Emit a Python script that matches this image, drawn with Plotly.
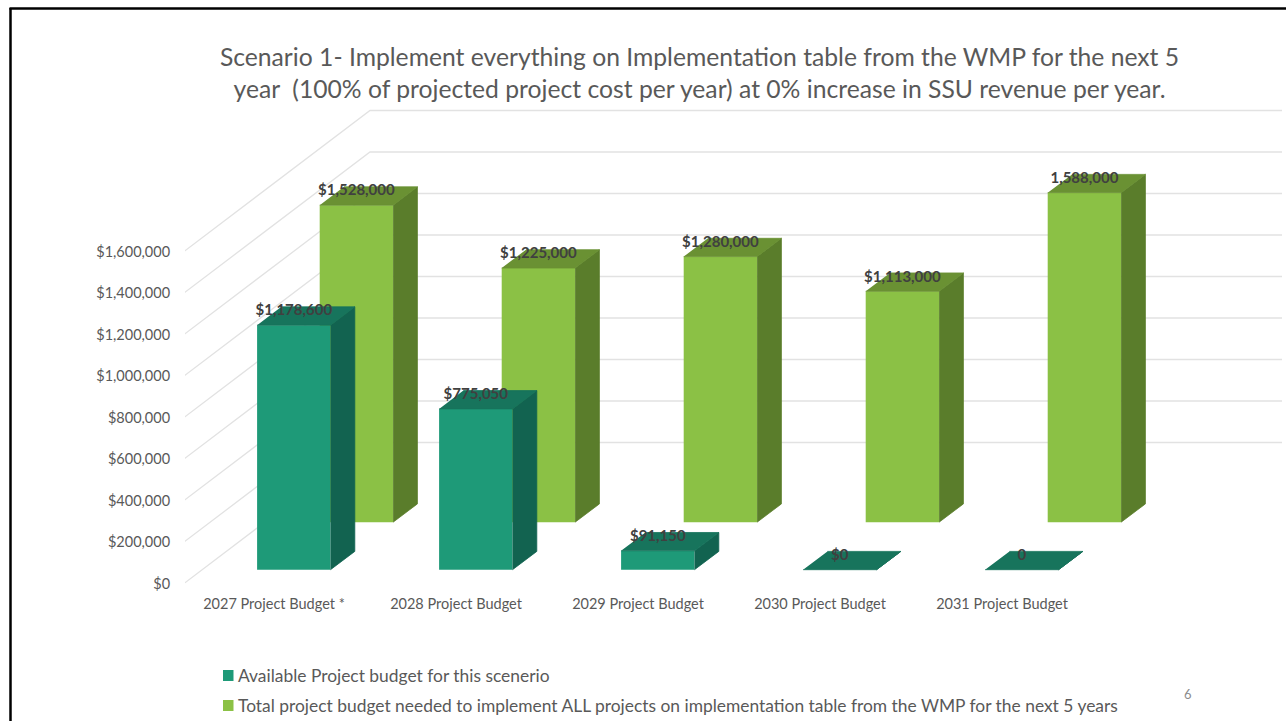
import plotly.graph_objects as go

categories = ["2027 Project Budget *", "2028 Project Budget", "2029 Project Budget",
              "2030 Project Budget", "2031 Project Budget"]
available = [1178600, 775050, 91150, 0, 0]
available_labels = ["$1,178,600", "$775,050", "$91,150", "$0", "0"]
needed = [1528000, 1225000, 1280000, 1113000, 1588000]
needed_labels = ["$1,528,000", "$1,225,000", "$1,280,000", "$1,113,000", "1,588,000"]
y_ticks = [0, 200000, 400000, 600000, 800000, 1000000, 1200000, 1400000, 1600000]
y_ticktext = ["$0", "$200,000", "$400,000", "$600,000", "$800,000", "$1,000,000",
              "$1,200,000", "$1,400,000", "$1,600,000"]
name_available = "Available Project budget for this scenerio"
name_needed = "Total project budget needed to implement ALL projects on implementation table from the WMP for the next 5 years"
title_text = ("Scenario 1- Implement everything on Implementation table from the WMP for the next 5<br>"
              "year  (100% of projected project cost per year) at 0% increase in SSU revenue per year.")

W, H = 1286, 721
PX_X = 182.0            # pixels per category
PX_Y = 41.5 / 200000    # pixels per dollar
X0_PX, Y0_PX = 274.0, 583.5
dxp = lambda p: p / PX_X
dyp = lambda p: p / PX_Y

BAR_W = dxp(73.4)
DEPTH_X, DEPTH_Y = dxp(24.3), dyp(18.3)
FRONT_SHIFT, FRONT_BASE = dxp(19.8), dyp(13.8)
BACK_SHIFT, BACK_BASE = dxp(82.4), dyp(61.3)
WALL_DX, WALL_DY = dxp(186), dyp(141)
WALL_X0, WALL_XR = dxp(184 - X0_PX), dxp(1282 - X0_PX)

fonts = "Lato, Carlito, Calibri, sans-serif"
GREY = "#595959"
DARK = "#404040"
GRID = "#e2e2e2"
C_FRONT = ("#1e9a78", "#126350", "#17745c")
C_BACK = ("#8bc145", "#5a7d2b", "#6a9133")

fig = go.Figure()

# back-wall gridlines
for v in y_ticks:
    fig.add_trace(go.Scatter(
        x=[WALL_X0, WALL_X0 + WALL_DX, WALL_XR],
        y=[v, v + WALL_DY, v + WALL_DY],
        mode="lines", line=dict(color=GRID, width=1.3),
        hoverinfo="skip", showlegend=False, zorder=0))


def polys(vals, shift, base):
    side_x, side_y, top_x, top_y = [], [], [], []
    for i, v in enumerate(vals):
        l = i + shift - BAR_W / 2
        r = i + shift + BAR_W / 2
        t = base + v
        side_x += [r, r + DEPTH_X, r + DEPTH_X, r, None]
        side_y += [base, base + DEPTH_Y, t + DEPTH_Y, t, None]
        top_x += [l, r, r + DEPTH_X, l + DEPTH_X, None]
        top_y += [t, t, t + DEPTH_Y, t + DEPTH_Y, None]
    return side_x, side_y, top_x, top_y


def add_series(vals, labels, shift, base, cols, name, z):
    xs = [i + shift for i in range(len(vals))]
    fig.add_trace(go.Bar(x=xs, y=vals, base=[base] * len(vals), width=BAR_W, name=name,
                         marker=dict(color=cols[0], line=dict(width=0)),
                         showlegend=False, zorder=z))
    sx, sy, tx, ty = polys(vals, shift, base)
    for px, py, c in ((sx, sy, cols[1]), (tx, ty, cols[2])):
        fig.add_trace(go.Scatter(x=px, y=py, mode="lines", fill="toself", fillcolor=c,
                                 line=dict(width=0.8, color=c), hoverinfo="skip",
                                 showlegend=False, zorder=z))


add_series(needed, needed_labels, BACK_SHIFT, BACK_BASE, C_BACK, name_needed, 1)
add_series(available, available_labels, FRONT_SHIFT, FRONT_BASE, C_FRONT, name_available, 2)

# data labels
LABEL_UP = dyp(13.5)
lab_x = [i + BACK_SHIFT for i in range(5)] + [i + FRONT_SHIFT for i in range(5)]
lab_y = [BACK_BASE + v + LABEL_UP for v in needed] + [FRONT_BASE + v + LABEL_UP for v in available]
fig.add_trace(go.Scatter(x=lab_x, y=lab_y, mode="text", text=needed_labels + available_labels,
                         textposition="middle center",
                         textfont=dict(family=fonts, size=15, color=DARK, weight="bold"),
                         hoverinfo="skip", showlegend=False, zorder=3))

shapes = [
    dict(type="line", xref="paper", yref="paper", x0=10.5 / W, x1=10.5 / W, y0=0, y1=1 - 8 / H,
         line=dict(color="black", width=2.5)),
    dict(type="line", xref="paper", yref="paper", x0=9.5 / W, x1=1, y0=1 - 8.5 / H, y1=1 - 8.5 / H,
         line=dict(color="black", width=2.5)),
]
annotations = [dict(xref="paper", yref="paper", x=1188 / W, y=1 - 694 / H, text="6", showarrow=False,
                    xanchor="center", yanchor="middle",
                    font=dict(family=fonts, size=13, color="#8c8c8c"))]
for yp, c, name in ((675.5, C_FRONT[0], name_available), (705.5, C_BACK[0], name_needed)):
    shapes.append(dict(type="rect", xref="paper", yref="paper", x0=223 / W, x1=233.5 / W,
                       y0=1 - (yp + 5.5) / H, y1=1 - (yp - 5.5) / H,
                       fillcolor=c, line=dict(width=0)))
    annotations.append(dict(xref="paper", yref="paper", x=236 / W, y=1 - yp / H, text=name,
                            xanchor="left", yanchor="middle", showarrow=False,
                            font=dict(family=fonts, size=17.4, color=GREY)))

fig.update_layout(
    width=W, height=H + 8, margin=dict(l=0, r=0, t=0, b=0),
    paper_bgcolor="white", plot_bgcolor="white", showlegend=False, barmode="overlay",
    font=dict(family=fonts, color=GREY),
    title=dict(text=title_text, x=699.5 / W, xanchor="center", y=1 - 65.5 / H, yanchor="top",
               font=dict(family=fonts, size=24.7, color=GREY)),
    xaxis=dict(domain=[185 / W, 1], range=[dxp(185 - X0_PX), dxp(W - X0_PX)],
               tickmode="array", tickvals=list(range(5)), ticktext=categories,
               ticks="outside", ticklen=7, tickcolor="rgba(0,0,0,0)",
               showgrid=False, zeroline=False, showline=False,
               tickfont=dict(family=fonts, size=14.5, color=GREY)),
    yaxis=dict(domain=[1 - Y0_PX / H, 1], range=[0, dyp(Y0_PX)],
               tickmode="array", tickvals=y_ticks, ticktext=y_ticktext,
               ticks="outside", ticklen=11, tickcolor="rgba(0,0,0,0)",
               showgrid=False, zeroline=False, showline=False,
               tickfont=dict(family=fonts, size=14.5, color=GREY)),
    shapes=shapes, annotations=annotations,
)

fig.write_html("out.html", config={"displayModeBar": False},
               post_script="document.body.style.margin='0';document.body.style.overflow='hidden';")
